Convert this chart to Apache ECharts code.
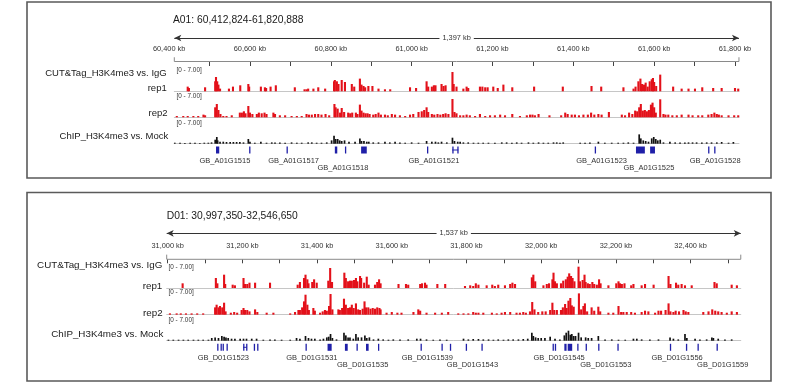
<!DOCTYPE html>
<html><head><meta charset="utf-8">
<script src="https://cdn.jsdelivr.net/npm/echarts@6/dist/echarts.min.js"></script>
<style>html,body{margin:0;padding:0;background:#fff}#c{width:799px;height:389px}</style>
</head><body><div id="c"></div><script>
// ---------------- DATA ----------------
const trackLabels = ['CUT&Tag_H3K4me3 vs. IgG', 'rep1', 'rep2', 'ChIP_H3K4me3 vs. Mock'];
const rangeLabel = '[0 - 7.00]';

const aTitle = 'A01: 60,412,824-61,820,888';
const aStart = 60412.824;
const aSpanKb = 1397;
const aSpanLabel = '1,397 kb';
const aTickLabels = [60400, 60600, 60800, 61000, 61200, 61400, 61600, 61800];
const aTicks = [60500, 60600, 60700, 60800, 60900, 61000, 61100, 61200, 61300, 61400, 61500, 61600, 61700, 61800];

const bTitle = 'D01: 30,997,350-32,546,650';
const bStart = 30997.35;
const bSpanKb = 1537;
const bSpanLabel = '1,537 kb';
const bTickLabels = [31000, 31200, 31400, 31600, 31800, 32000, 32200, 32400];
const bTicks = [31000, 31100, 31200, 31300, 31400, 31500, 31600, 31700, 31800, 31900, 32000, 32100, 32200, 32300, 32400, 32500];

const aRep1 = [[60446,1.31],[60449,0.93],[60489,1.12],[60514,2.8],[60516,4.0],[60519,2.8],[60522,1.87],[60526,0.75],[60548,0.75],[60558,1.31],[60576,1.68],[60596,2.05],[60598,1.31],[60627,1.31],[60637,1.12],[60640,0.93],[60651,1.31],[60664,1.68],[60711,1.12],[60735,0.56],[60740,0.56],[60744,0.75],[60757,0.75],[60769,1.12],[60786,0.75],[60808,2.8],[60810,3.17],[60815,2.8],[60819,2.05],[60827,3.17],[60835,2.61],[60852,2.05],[60858,1.31],[60872,3.55],[60876,1.87],[60881,1.49],[60885,1.12],[60893,1.49],[60903,1.49],[60918,0.75],[60934,0.56],[60947,0.56],[60996,1.12],[61011,0.93],[61037,2.8],[61041,1.31],[61050,1.31],[61055,1.68],[61059,1.68],[61074,2.05],[61079,1.49],[61084,1.68],[61101,5.41],[61104,2.05],[61111,1.31],[61128,0.75],[61136,1.31],[61140,0.93],[61169,1.31],[61175,1.31],[61182,1.12],[61188,1.12],[61202,1.31],[61213,0.93],[61227,1.87],[61249,1.12],[61303,1.31],[61374,1.31],[61445,1.49],[61469,1.31],[61524,1.12],[61549,0.75],[61554,1.31],[61561,2.8],[61566,3.55],[61570,2.05],[61575,1.87],[61579,2.43],[61584,1.31],[61589,2.8],[61594,3.36],[61597,3.73],[61600,2.61],[61605,1.49],[61615,4.67],[61647,1.31],[61668,0.75],[61685,0.75],[61701,0.75],[61719,1.12],[61746,0.93],[61767,0.93],[61800,0.93],[61808,0.75]];

const aRep2 = [[60419,0.37],[60435,0.37],[60446,0.37],[60460,0.37],[60472,0.37],[60485,0.75],[60489,0.56],[60514,2.8],[60518,3.73],[60522,2.05],[60527,0.93],[60534,0.37],[60542,0.37],[60555,0.56],[60575,1.31],[60580,1.31],[60585,1.68],[60589,1.12],[60596,3.17],[60600,1.31],[60606,0.93],[60617,0.93],[60622,1.31],[60629,1.12],[60636,1.31],[60641,0.93],[60658,1.31],[60662,0.93],[60674,0.56],[60687,0.56],[60703,0.37],[60716,0.37],[60728,0.37],[60740,0.93],[60746,0.75],[60753,0.75],[60761,0.93],[60769,0.93],[60777,0.75],[60787,0.93],[60796,0.56],[60809,3.73],[60812,2.8],[60817,2.43],[60823,1.31],[60827,2.61],[60833,1.49],[60843,1.31],[60848,1.12],[60853,1.31],[60862,1.31],[60866,0.93],[60872,3.55],[60876,1.87],[60881,1.31],[60886,1.12],[60891,1.12],[60896,0.93],[60905,0.75],[60911,0.93],[60918,1.31],[60924,0.75],[60934,0.75],[60941,0.56],[60951,0.93],[60959,0.75],[60971,0.56],[60984,0.37],[60996,0.75],[61004,0.93],[61017,1.49],[61025,1.68],[61031,2.05],[61037,2.8],[61041,1.49],[61050,0.93],[61056,0.75],[61064,0.93],[61071,0.75],[61078,0.93],[61084,1.12],[61091,0.93],[61101,5.13],[61106,1.49],[61111,1.12],[61120,0.56],[61128,0.56],[61136,0.75],[61144,0.56],[61157,0.37],[61169,0.93],[61182,0.37],[61194,0.56],[61206,0.56],[61219,0.75],[61231,0.56],[61249,0.93],[61268,0.37],[61285,0.56],[61293,0.75],[61299,0.75],[61305,0.56],[61314,0.93],[61341,0.56],[61370,0.56],[61380,1.31],[61386,0.93],[61396,0.75],[61404,0.75],[61414,0.56],[61425,0.75],[61436,0.75],[61444,1.31],[61452,0.75],[61462,0.93],[61470,0.75],[61488,1.49],[61520,0.75],[61528,0.56],[61538,1.31],[61546,0.93],[61553,1.87],[61558,1.68],[61563,2.8],[61567,3.73],[61572,1.87],[61577,2.05],[61582,1.68],[61587,2.05],[61592,3.55],[61596,4.1],[61600,2.8],[61604,1.31],[61615,5.04],[61623,0.93],[61628,0.75],[61635,0.75],[61645,0.56],[61656,0.56],[61668,0.75],[61685,0.75],[61695,0.56],[61709,0.56],[61719,0.56],[61734,0.75],[61742,0.93],[61749,1.31],[61755,0.93],[61760,0.75],[61767,0.56],[61784,0.56],[61798,0.56],[61808,0.56]];

const aChip = [[60414,0.28],[60427,0.28],[60439,0.2],[60452,0.28],[60464,0.28],[60476,0.2],[60487,0.28],[60497,0.28],[60505,0.37],[60514,1.12],[60518,1.87],[60520,0.93],[60526,0.56],[60534,0.56],[60542,0.47],[60551,0.47],[60559,0.47],[60567,0.47],[60575,0.47],[60584,0.37],[60596,1.31],[60600,0.56],[60612,0.28],[60627,0.56],[60641,0.28],[60654,0.37],[60662,0.37],[60674,0.37],[60687,0.28],[60703,0.37],[60716,0.28],[60728,0.28],[60744,0.37],[60753,0.37],[60765,0.28],[60777,0.28],[60790,0.37],[60802,0.93],[60808,2.24],[60812,1.31],[60817,1.31],[60822,0.93],[60827,0.75],[60834,0.93],[60845,0.56],[60860,0.56],[60872,1.49],[60876,0.75],[60882,0.75],[60889,0.56],[60894,0.56],[60905,0.37],[60918,0.37],[60934,0.56],[60946,0.37],[60959,0.56],[60971,0.37],[60984,0.28],[61000,0.37],[61017,0.28],[61037,0.75],[61050,0.56],[61059,0.56],[61066,0.37],[61074,0.56],[61087,0.37],[61101,1.68],[61106,0.75],[61114,0.56],[61120,0.56],[61128,0.37],[61140,0.37],[61153,0.28],[61165,0.28],[61177,0.28],[61190,0.28],[61206,0.28],[61223,0.37],[61235,0.37],[61248,0.28],[61260,0.37],[61272,0.28],[61289,0.37],[61301,0.28],[61314,0.37],[61326,0.28],[61338,0.28],[61351,0.37],[61359,0.37],[61367,0.28],[61375,0.37],[61417,0.28],[61429,0.28],[61441,0.37],[61462,0.56],[61478,0.28],[61495,0.28],[61511,0.28],[61524,0.28],[61536,0.37],[61549,0.28],[61563,2.61],[61567,1.49],[61573,0.93],[61579,0.75],[61586,0.56],[61594,1.49],[61599,1.87],[61604,1.31],[61609,0.93],[61615,1.12],[61623,0.37],[61639,0.56],[61652,0.37],[61664,0.37],[61676,0.37],[61685,0.37],[61695,0.37],[61705,0.37],[61718,0.37],[61730,0.37],[61742,0.37],[61755,0.37],[61767,0.47],[61784,0.28],[61796,0.47]];

const bRep1 = [[31040,1.31],[31129,2.8],[31133,1.31],[31151,3.73],[31154,1.12],[31174,0.93],[31180,0.75],[31203,2.8],[31207,1.12],[31213,1.12],[31219,1.49],[31234,1.49],[31274,1.49],[31348,0.93],[31354,1.68],[31365,2.8],[31369,3.73],[31374,2.43],[31377,1.31],[31387,1.68],[31392,2.43],[31399,1.49],[31430,2.05],[31435,5.6],[31440,1.68],[31473,4.29],[31477,2.8],[31483,1.87],[31488,2.05],[31493,2.05],[31499,2.24],[31504,2.8],[31508,1.87],[31515,3.36],[31518,2.8],[31526,1.49],[31533,3.17],[31538,0.93],[31555,0.93],[31561,1.68],[31566,2.43],[31570,1.31],[31618,1.12],[31638,1.12],[31644,0.93],[31676,1.12],[31681,1.31],[31689,1.49],[31693,0.93],[31722,1.12],[31743,1.12],[31796,0.56],[31810,0.75],[31818,0.56],[31825,1.31],[31832,0.93],[31854,0.75],[31869,0.93],[31876,0.56],[31885,0.93],[31903,0.75],[31917,1.12],[31923,1.49],[31930,1.12],[31975,2.99],[31979,3.73],[31984,1.87],[32006,0.75],[32015,1.12],[32021,1.31],[32030,2.43],[32033,4.29],[32037,1.87],[32042,1.31],[32053,1.31],[32059,2.05],[32066,2.43],[32071,3.17],[32075,4.1],[32080,3.36],[32084,2.8],[32089,1.87],[32100,5.97],[32104,1.87],[32111,2.24],[32116,3.73],[32119,1.68],[32125,1.31],[32130,1.12],[32137,1.68],[32142,1.12],[32149,0.93],[32155,2.43],[32159,1.31],[32180,0.75],[32201,1.31],[32207,1.87],[32211,1.31],[32216,1.12],[32223,1.31],[32241,0.75],[32247,1.12],[32269,0.75],[32278,1.12],[32301,0.93],[32341,3.36],[32346,1.12],[32361,1.49],[32367,0.93],[32376,1.12],[32385,0.75],[32403,0.75],[32464,1.68],[32470,1.31],[32510,0.93],[32524,0.75]];

const bRep2 = [[31006,0.37],[31024,0.37],[31035,0.37],[31049,0.37],[31064,0.37],[31079,0.37],[31095,0.37],[31127,2.05],[31131,2.8],[31136,2.05],[31140,2.43],[31146,2.05],[31151,3.36],[31155,0.93],[31169,0.56],[31178,0.75],[31186,0.56],[31198,1.31],[31203,1.87],[31207,1.31],[31213,1.31],[31219,0.93],[31234,1.49],[31240,0.75],[31265,0.56],[31283,0.56],[31328,0.37],[31341,0.75],[31350,1.31],[31354,1.31],[31360,2.05],[31365,3.73],[31369,5.6],[31374,2.8],[31378,1.31],[31390,1.87],[31394,1.12],[31408,0.56],[31415,0.93],[31421,1.31],[31426,1.12],[31432,2.43],[31436,5.79],[31441,1.49],[31457,1.49],[31461,1.31],[31467,1.87],[31472,4.48],[31477,2.8],[31483,1.87],[31488,2.05],[31493,2.8],[31498,1.87],[31504,3.17],[31510,1.49],[31515,1.31],[31522,1.68],[31527,3.73],[31531,2.05],[31537,2.05],[31543,1.68],[31549,1.87],[31555,1.68],[31561,2.05],[31567,1.87],[31570,1.49],[31586,0.56],[31600,0.75],[31615,0.56],[31626,0.56],[31658,0.75],[31671,1.49],[31676,1.12],[31693,0.56],[31716,0.56],[31734,0.56],[31751,0.75],[31778,0.37],[31792,0.37],[31805,0.37],[31818,0.75],[31825,0.56],[31832,0.56],[31845,0.56],[31868,0.56],[31881,0.37],[31894,0.56],[31903,0.75],[31917,0.75],[31934,0.56],[31943,0.56],[31952,0.75],[31959,0.56],[31970,0.93],[31976,3.55],[31982,1.49],[31992,0.75],[32003,0.93],[32012,0.93],[32024,1.31],[32030,3.36],[32035,1.31],[32042,1.31],[32053,1.31],[32058,2.05],[32064,2.99],[32068,1.87],[32073,3.92],[32078,4.67],[32082,2.61],[32087,2.24],[32101,5.97],[32107,1.49],[32113,2.43],[32117,3.17],[32123,0.93],[32135,2.05],[32142,1.12],[32153,2.24],[32158,0.93],[32180,0.56],[32193,0.56],[32207,2.43],[32214,0.75],[32220,0.75],[32229,0.75],[32241,0.75],[32251,0.56],[32269,0.75],[32278,1.12],[32287,0.93],[32305,0.56],[32314,1.12],[32321,1.12],[32333,1.31],[32341,3.17],[32346,0.93],[32354,0.75],[32360,1.12],[32369,0.93],[32381,1.31],[32387,0.93],[32394,0.75],[32434,0.75],[32448,0.93],[32458,1.49],[32466,1.12],[32474,0.93],[32483,0.75],[32497,0.56],[32510,0.93],[32524,0.75]];

const bChip = [[31002,0.28],[31015,0.28],[31029,0.28],[31042,0.28],[31055,0.28],[31069,0.28],[31082,0.28],[31095,0.28],[31109,0.28],[31118,0.75],[31127,0.93],[31136,0.75],[31145,1.31],[31151,1.12],[31156,0.93],[31162,0.75],[31171,0.56],[31180,0.56],[31194,0.56],[31203,0.56],[31211,0.56],[31225,0.56],[31238,0.56],[31256,0.28],[31274,0.37],[31287,0.37],[31305,0.28],[31328,0.28],[31345,0.75],[31354,0.56],[31369,1.31],[31377,0.75],[31385,0.56],[31394,0.56],[31408,0.37],[31417,0.56],[31426,0.93],[31431,1.12],[31436,1.87],[31441,0.75],[31452,0.37],[31472,2.24],[31477,1.49],[31483,0.93],[31488,0.93],[31497,0.56],[31504,1.87],[31510,0.93],[31519,0.93],[31528,1.49],[31533,0.75],[31540,0.93],[31551,0.37],[31564,0.56],[31577,0.37],[31591,0.28],[31604,0.37],[31622,0.37],[31644,0.37],[31667,0.56],[31677,0.56],[31693,0.37],[31711,0.28],[31729,0.37],[31747,0.28],[31792,0.56],[31805,0.37],[31818,0.47],[31832,0.47],[31845,0.37],[31859,0.37],[31872,0.28],[31885,0.37],[31899,0.28],[31912,0.37],[31925,0.37],[31939,0.37],[31952,0.47],[31964,0.56],[31975,2.24],[31979,1.31],[31985,0.93],[31992,0.75],[32000,0.75],[32010,0.75],[32024,1.12],[32037,0.56],[32050,0.37],[32062,1.49],[32067,2.24],[32073,2.8],[32078,1.68],[32082,1.87],[32087,1.31],[32092,1.31],[32100,2.24],[32107,0.93],[32119,0.93],[32126,0.75],[32135,0.75],[32153,1.31],[32171,0.37],[32189,0.37],[32207,0.28],[32225,0.28],[32247,0.56],[32256,0.56],[32269,0.37],[32291,0.37],[32314,0.37],[32345,0.93],[32354,0.56],[32367,0.37],[32385,1.87],[32390,0.75],[32412,0.56],[32425,0.37],[32443,0.37],[32457,0.93],[32461,0.75],[32474,0.56],[32492,0.37],[32510,0.37]];

// gene features [start kb, end kb]
const aGenes = [[60516,60524],[60598,60599],[60690.5,60691.5],[60810,60816],[60835,60836],[60875,60889],[61038,61039],[61100.6,61103],[61113,61115.4],[61453,61454],[61555,61577],[61590,61602],[61733.5,61734.5],[61748.5,61749.5]];
const aIntrons = [[61100.6,61115.4]];
const aGeneLabels = [['GB_A01G1515',60538],['GB_A01G1517',60708],['GB_A01G1518',60830],['GB_A01G1521',61055],['GB_A01G1523',61470],['GB_A01G1525',61587],['GB_A01G1528',61751]];

const bGenes = [[31132.5,31133.5],[31141.5,31142.5],[31147,31148],[31157.5,31158.5],[31202,31203.5],[31210,31211.5],[31230.5,31231.5],[31239.5,31240.5],[31369,31370],[31428,31439],[31474.5,31482],[31505.5,31506.5],[31531,31538],[31563,31565],[31677,31678],[31733,31734.5],[31755.5,31756.5],[31798,31799],[31840,31841.5],[32030.5,32031.5],[32036.5,32037.5],[32062,32068],[32071,32083],[32096.5,32097.5],[32119,32120],[32152.5,32154],[32204,32206.5],[32344.5,32346],[32387.5,32388.5],[32418.5,32419.5],[32469.5,32470.5]];
const bIntrons = [[31202,31211.5]];
const bGeneLabels = [['GB_D01G1523',31149],['GB_D01G1531',31386],['GB_D01G1535',31522],['GB_D01G1539',31695],['GB_D01G1543',31816],['GB_D01G1545',32048],['GB_D01G1553',32173],['GB_D01G1556',32364],['GB_D01G1559',32486]];

// ---------------- LAYOUT / BUILD ----------------
const FONT = '"Liberation Sans", Arial, Helvetica, sans-serif';
const RED = '#e3111a', BLACK = '#111111', BLUE = '#1f1fa8';
const grids = [], xAxes = [], yAxes = [], series = [], graphics = [];

function commas(n){ return String(Math.round(n)).replace(/\B(?=(\d{3})+(?!\d))/g, ','); }
function txt(x, y, s, size, align, color, bg){
  const st = {text:s, fontSize:size, fontFamily:FONT, fill:color||'#222', align:align||'left', verticalAlign:'middle'};
  if (bg) { st.backgroundColor = bg; st.padding = [1, 3]; }
  return {type:'text', x:x, y:y, silent:true, z:50, style:st};
}
function addGrid(top, height, left, width){
  grids.push({top:top, height:height, left:left, width:width, containLabel:false});
  return grids.length - 1;
}

function buildPanel(L, D){
  const width = D.span * L.ppk;
  const end = D.start + D.span;
  const px = kb => L.left + (kb - D.start) * L.ppk;

  graphics.push({type:'rect', z:60, silent:true, shape:{x:L.frame[0], y:L.frame[1], width:L.frame[2], height:L.frame[3]},
    style:{fill:'none', stroke:'#5a5a5a', lineWidth:1.6}});
  graphics.push(txt(L.titleX, L.titleY, D.title, 10.3, 'left', '#1a1a1a'));
  trackLabels.forEach((s, i) => graphics.push(txt(L.labelRight[i], L.labelYs[i], s, L.nameFont, 'right', '#1a1a1a')));
  L.rangeYs.forEach(y => graphics.push(txt(L.rangeX, y, rangeLabel, 6.4, 'left', '#333')));

  // span arrow (line with arrowheads drawn by markLine, text centred on it)
  let g = addGrid(L.arrowY - 5, 10, L.left, width);
  xAxes.push({gridIndex:g, type:'value', min:D.start, max:end, show:false});
  yAxes.push({gridIndex:g, type:'value', min:0, max:1, show:false});
  series.push({type:'line', xAxisIndex:xAxes.length-1, yAxisIndex:yAxes.length-1, data:[[D.start,0.5]], symbol:'none',
    lineStyle:{opacity:0}, silent:true,
    markLine:{silent:true, animation:false, symbol:['arrow','arrow'], symbolSize:[5,7],
      lineStyle:{color:'#333', width:1, type:'solid'},
      label:{show:false},
      emphasis:{disabled:true},
      data:[[{coord:[D.start,0.5]},{coord:[end,0.5]}]]}});
  graphics.push(txt(L.left + width / 2, L.arrowY, D.spanLabel, 7.4, 'center', '#333', '#fff'));

  // ruler
  const rMin = Math.min(D.tickLabels[0], D.start);
  g = addGrid(L.rulerTop, L.rulerBottom - L.rulerTop, px(rMin), (end - rMin) * L.ppk);
  xAxes.push({gridIndex:g, type:'value', position:'top', min:rMin, max:end,
    axisLine:{show:false}, splitLine:{show:false},
    axisTick:{show:true, inside:true, length:L.tickLen, customValues:D.ticks, lineStyle:{color:'#444', width:1}},
    axisLabel:{show:true, customValues:D.tickLabels, formatter:v => commas(v) + ' kb', fontSize:7.4, fontFamily:FONT, color:'#333', margin:1}});
  yAxes.push({gridIndex:g, type:'value', min:0, max:1, show:false});
  series.push({type:'line', xAxisIndex:xAxes.length-1, yAxisIndex:yAxes.length-1, silent:true, symbol:'none', clip:false,
    data:[[D.start,0.5],[D.start,0],[end,0],[end,0.5]], lineStyle:{color:'#8a8a8a', width:1}});

  // signal tracks
  const colors = [RED, RED, BLACK];
  D.tracks.forEach((arr, i) => {
    const gi = addGrid(L.trackTops[i], L.trackH, L.left, width);
    xAxes.push({gridIndex:gi, type:'value', min:D.start, max:end,
      axisLine:{show:true, onZero:false, lineStyle:{color:'#c6c6c6', width:1}},
      axisTick:{show:false}, axisLabel:{show:false}, splitLine:{show:false}});
    yAxes.push({gridIndex:gi, type:'value', min:0, max:7, show:false});
    series.push({type:'bar', xAxisIndex:xAxes.length-1, yAxisIndex:yAxes.length-1, data:arr, silent:true,
      barWidth: i < 2 ? 2.1 : 1.7, itemStyle:{color:colors[i]}});
  });

  // genes
  g = addGrid(L.geneY - 3.5, 7, L.left, width);
  xAxes.push({gridIndex:g, type:'value', min:D.start, max:end, show:false});
  yAxes.push({gridIndex:g, type:'value', min:0, max:1, show:false});
  const xi = xAxes.length - 1, yi = yAxes.length - 1;
  series.push({type:'custom', xAxisIndex:xi, yAxisIndex:yi, silent:true, data:D.introns, encode:{x:[0,1]},
    renderItem:(p, api) => {
      const a = api.coord([api.value(0), 0.5]), b = api.coord([api.value(1), 0.5]);
      return {type:'rect', shape:{x:a[0], y:a[1]-0.5, width:b[0]-a[0], height:1}, style:{fill:BLUE}};
    }});
  series.push({type:'custom', xAxisIndex:xi, yAxisIndex:yi, silent:true, data:D.genes, encode:{x:[0,1]},
    renderItem:(p, api) => {
      const a = api.coord([api.value(0), 0.5]), b = api.coord([api.value(1), 0.5]);
      const w = Math.max(1.3, b[0] - a[0]);
      return {type:'rect', shape:{x:a[0], y:a[1]-3.5, width:w, height:7}, style:{fill:BLUE}};
    }});
  // gene labels: stagger overlapping names onto a second row
  let lastPx = -1e9;
  const rows = D.geneLabels.map(l => {
    const x = px(l[1]);
    if (x - lastPx >= 56) { lastPx = x; return 0; }
    return 1;
  });
  series.push({type:'custom', xAxisIndex:xi, yAxisIndex:yi, silent:true, clip:false,
    data:D.geneLabels.map((l, i) => [l[1], rows[i]]), encode:{x:0},
    renderItem:(p, api) => {
      const c = api.coord([api.value(0), 0.5]);
      const r = api.value(1);
      return {type:'text', x:c[0], y:c[1] + (r ? 17.5 : 11),
        style:{text:D.geneLabels[p.dataIndex][0], fontSize:7.5, fontFamily:FONT, fill:'#333', align:'center', verticalAlign:'middle'}};
    }});
}

buildPanel(
  {left:174.3, ppk:0.4042, frame:[27,2,744,176], titleX:173, titleY:20.5, arrowY:38, rulerTop:53, rulerBottom:61.5, tickLen:4.5,
   trackTops:[66.3,92.3,118.7], trackH:25, geneY:150, labelRight:[166.7,166.7,167.5,168.3], labelYs:[73.3,88.3,113.3,136.7],
   nameFont:9.5, rangeX:176.5, rangeYs:[70.3,96.3,123]},
  {title:aTitle, start:aStart, span:aSpanKb, spanLabel:aSpanLabel, tickLabels:aTickLabels, ticks:aTicks,
   tracks:[aRep1, aRep2, aChip], genes:aGenes, introns:aIntrons, geneLabels:aGeneLabels});

buildPanel(
  {left:166.7, ppk:0.3735, frame:[27,192.5,744,188.5], titleX:166.7, titleY:216, arrowY:233.3, rulerTop:250, rulerBottom:259.3, tickLen:4,
   trackTops:[263,289.7,315.7], trackH:25, geneY:347.3, labelRight:[162.3,162.3,162.7,163.3], labelYs:[265.7,286.7,313.3,334],
   nameFont:9.8, rangeX:168.5, rangeYs:[267,292.3,320.3]},
  {title:bTitle, start:bStart, span:bSpanKb, spanLabel:bSpanLabel, tickLabels:bTickLabels, ticks:bTicks,
   tracks:[bRep1, bRep2, bChip], genes:bGenes, introns:bIntrons, geneLabels:bGeneLabels});

const chart = echarts.init(document.getElementById('c'), null, {renderer:'canvas'});
chart.setOption({
  animation:false,
  backgroundColor:'#fff',
  grid:grids, xAxis:xAxes, yAxis:yAxes, series:series,
  graphic:{elements:graphics}
});
</script></body></html>
